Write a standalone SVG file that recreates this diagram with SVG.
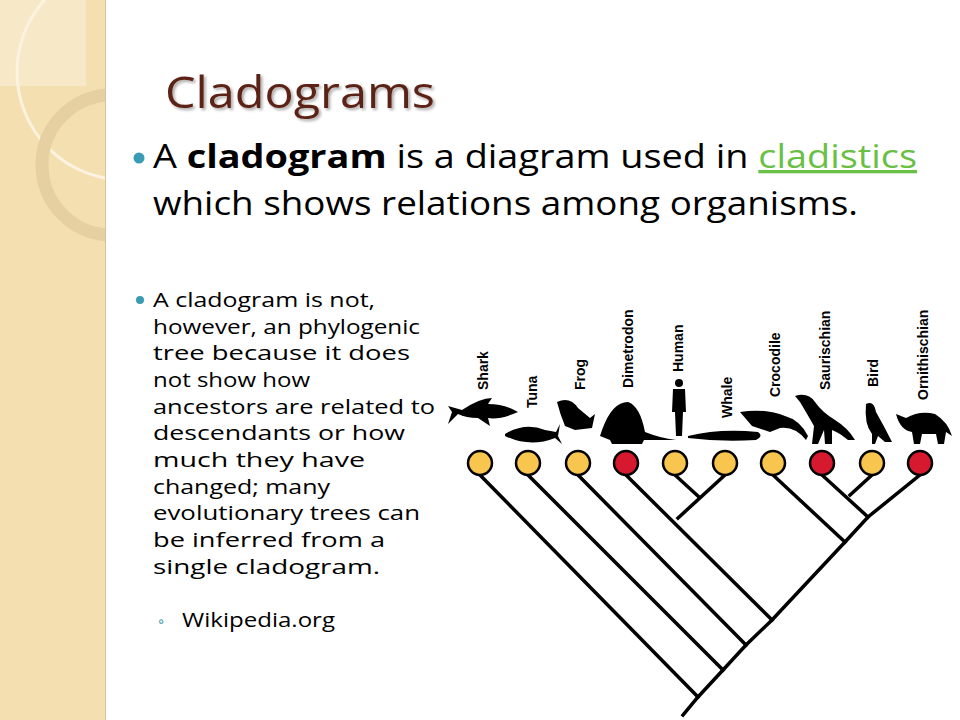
<svg xmlns="http://www.w3.org/2000/svg" width="960" height="720" viewBox="0 0 960 720">
<defs>
<clipPath id="strip"><rect x="0" y="0" width="105" height="720"/></clipPath>
<filter id="sh"><feDropShadow dx="2" dy="2" stdDeviation="1.5" flood-color="#000" flood-opacity="0.35"/></filter>
</defs>
<style>
.t{font-family:"Open Sans","Lato",sans-serif;fill:#000}
.p{font-size:20px}
.lb{font-family:"Liberation Sans",sans-serif;font-weight:bold;font-size:14px}
.br{stroke:#000;stroke-width:3.5;fill:none;stroke-linecap:square}
.y{fill:#f8c64e;stroke:#000;stroke-width:2.5}
.r{fill:#d7192f;stroke:#000;stroke-width:2.5}
.sil{fill:#000}
</style>
<rect width="960" height="720" fill="#fff"/>
<g id="strip-bg" clip-path="url(#strip)">
<rect width="105" height="720" fill="#f4dfb0"/>
<rect width="86" height="86" fill="#f7e9c8"/>
<circle cx="125" cy="72" r="108" fill="none" stroke="#fbf3e0" stroke-width="3"/>
<circle cx="112" cy="165" r="70" fill="none" stroke="#e6cfa0" stroke-width="13"/>
</g>
<line x1="105.5" y1="0" x2="105.5" y2="720" stroke="#d9c49a" stroke-width="1"/>
<text class="t" x="165" y="108" font-size="44" textLength="270" lengthAdjust="spacingAndGlyphs" style="fill:#5b2415" filter="url(#sh)">Cladograms</text>
<circle cx="139" cy="158" r="5.5" fill="#3b9bb5"/>
<text class="t" x="153" y="168" font-size="33" textLength="764" lengthAdjust="spacingAndGlyphs">A <tspan font-weight="bold">cladogram</tspan> is a diagram used in <tspan style="fill:#6abf45" text-decoration="underline">cladistics</tspan></text>
<text class="t" x="153" y="215" font-size="33" textLength="705" lengthAdjust="spacingAndGlyphs">which shows relations among organisms.</text>
<circle cx="140" cy="300" r="4" fill="#3b9bb5"/>
<g class="t p">
<text x="153" y="307" textLength="222" lengthAdjust="spacingAndGlyphs">A cladogram is not,</text>
<text x="153" y="334" textLength="267" lengthAdjust="spacingAndGlyphs">however, an phylogenic</text>
<text x="153" y="360" textLength="257" lengthAdjust="spacingAndGlyphs">tree because it does</text>
<text x="153" y="387" textLength="157" lengthAdjust="spacingAndGlyphs">not show how</text>
<text x="153" y="414" textLength="282" lengthAdjust="spacingAndGlyphs">ancestors are related to</text>
<text x="153" y="440" textLength="252" lengthAdjust="spacingAndGlyphs">descendants or how</text>
<text x="153" y="467" textLength="212" lengthAdjust="spacingAndGlyphs">much they have</text>
<text x="153" y="494" textLength="177" lengthAdjust="spacingAndGlyphs">changed; many</text>
<text x="153" y="520" textLength="267" lengthAdjust="spacingAndGlyphs">evolutionary trees can</text>
<text x="153" y="547" textLength="232" lengthAdjust="spacingAndGlyphs">be inferred from a</text>
<text x="153" y="574" textLength="227" lengthAdjust="spacingAndGlyphs">single cladogram.</text>
<text x="158" y="627" font-size="16" style="fill:#3b9bb5">◦</text>
<text x="182" y="627" textLength="153" lengthAdjust="spacingAndGlyphs">Wikipedia.org</text>
</g>
<g id="connectors" class="br">
<polyline points="920,475 868,517 845,542 772,620 746,645 723,670 698,697 683,715"/>
<line x1="480" y1="475" x2="698" y2="697"/>
<line x1="528" y1="475" x2="723" y2="670"/>
<line x1="578" y1="475" x2="746" y2="645"/>
<line x1="626" y1="475" x2="772" y2="620"/>
<line x1="725" y1="475" x2="678" y2="518"/>
<line x1="675" y1="475" x2="698" y2="496"/>
<line x1="773" y1="475" x2="845" y2="542"/>
<line x1="822" y1="475" x2="868" y2="517"/>
<line x1="872" y1="475" x2="850" y2="495"/>
</g>
<g id="n-shark"><circle class="y" cx="480" cy="463" r="12"/><text class="lb" transform="translate(488,390) rotate(-90)">Shark</text><path class="sil" d="M448,406 L462,410 Q480,398 492,398 L488,404 Q505,404 518,412 Q500,420 488,418 L490,426 L478,418 Q466,418 458,414 L448,424 L452,412 Z"/></g>
<g id="n-tuna"><circle class="y" cx="528" cy="463" r="12"/><text class="lb" transform="translate(537,408) rotate(-90)">Tuna</text><path class="sil" d="M505,434 Q525,422 545,430 L556,432 L560,424 L558,436 L562,444 L555,438 Q530,448 505,436 Z"/></g>
<g id="n-frog"><circle class="y" cx="578" cy="463" r="12"/><text class="lb" transform="translate(585,390) rotate(-90)">Frog</text><path class="sil" d="M557,402 Q570,396 578,408 L590,418 L595,414 L592,428 L575,430 L565,426 Q560,414 557,402 Z"/></g>
<g id="n-dimetrodon"><circle class="r" cx="626" cy="463" r="12"/><text class="lb" transform="translate(633,388) rotate(-90)">Dimetrodon</text><path class="sil" d="M602,430 Q612,402 628,402 Q640,406 645,432 Q660,438 676,440 L644,440 L642,444 L612,444 L610,440 L600,436 Z"/></g>
<g id="n-human"><circle class="y" cx="675" cy="463" r="12"/><text class="lb" transform="translate(683,372) rotate(-90)">Human</text><circle class="sil" cx="679" cy="383" r="4"/><path class="sil" d="M673,389 L685,389 L686,412 L683,412 L682,436 L676,436 L675,412 L672,412 Z"/></g>
<g id="n-whale"><circle class="y" cx="725" cy="463" r="12"/><text class="lb" transform="translate(732,418) rotate(-90)">Whale</text><path class="sil" d="M688,436 Q720,428 758,432 Q764,436 756,440 Q720,442 688,438 Z"/></g>
<g id="n-crocodile"><circle class="y" cx="773" cy="463" r="12"/><text class="lb" transform="translate(780,397) rotate(-90)">Crocodile</text><path class="sil" d="M740,412 Q765,408 785,416 Q800,420 808,436 L806,440 Q795,426 780,428 L770,432 L752,426 Z"/></g>
<g id="n-saurischian"><circle class="r" cx="822" cy="463" r="12"/><text class="lb" transform="translate(830,390) rotate(-90)">Saurischian</text><path class="sil" d="M795,396 Q808,392 815,402 Q822,412 835,420 Q848,428 855,440 L848,440 Q838,432 832,430 L832,444 L825,444 L824,430 L818,444 L812,444 L814,426 Q806,412 800,402 Z"/></g>
<g id="n-bird"><circle class="y" cx="872" cy="463" r="12"/><text class="lb" transform="translate(878,387) rotate(-90)">Bird</text><path class="sil" d="M866,404 Q874,400 876,412 Q884,426 892,442 L885,442 L878,436 L875,444 L872,444 L872,434 Q864,424 866,404 Z"/></g>
<g id="n-ornithischian"><circle class="r" cx="920" cy="463" r="12"/><text class="lb" transform="translate(928,400) rotate(-90)">Ornithischian</text><path class="sil" d="M896,414 L906,418 Q920,410 935,414 Q948,422 952,436 L946,432 L944,444 L938,444 L936,434 L922,434 L920,444 L914,444 L912,432 Q900,430 896,414 Z"/></g>
</svg>
